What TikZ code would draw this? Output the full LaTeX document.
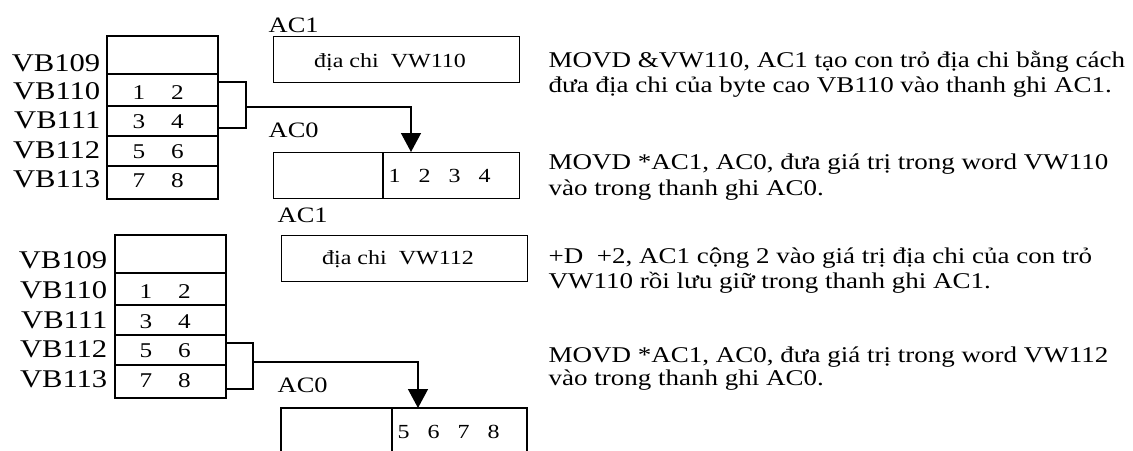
\documentclass[tikz,border=0pt]{standalone}
\usepackage{fontspec}
\setmainfont{Liberation Serif}
\usetikzlibrary{arrows.meta}
\newcommand\hstr[1]{\scalebox{1.2}[1]{#1}}
\begin{document}
\begin{tikzpicture}[x=1pt,y=-1pt,line width=1.4pt,
  vblbl/.style={inner sep=0pt,anchor=base east,font=\fontsize{25.5}{30}\selectfont},
  aclbl/.style={inner sep=0pt,anchor=base west,font=\fontsize{22}{26}\selectfont},
  memdig/.style={inner sep=0pt,anchor=base west,font=\fontsize{21}{25}\selectfont},
  boxtxt/.style={inner sep=0pt,anchor=base,font=\fontsize{20}{24}\selectfont},
  boxdig/.style={inner sep=0pt,anchor=base west,font=\fontsize{20}{24}\selectfont},
  desc/.style={inner sep=0pt,anchor=base west,font=\fontsize{22.5}{25}\selectfont},
  reg/.style={draw,line width=1.4pt,inner sep=0pt,anchor=north west,minimum width=246pt,minimum height=46pt},
  ptr/.style={-{Triangle[width=20pt,length=19pt]}}]
\useasboundingbox (0,0) rectangle (1133,450);

% ---------- first memory block ----------
\draw (107,36) rectangle (218,199);
\foreach \yy in {74,106,136,166} \draw (107,\yy) -- (218,\yy);
\node[vblbl] (l1a) at (101,71) {\hstr{VB109}};
\node[vblbl] (l1b) at (101,99) {\hstr{VB110}};
\node[vblbl] (l1c) at (101,128) {\hstr{VB111}};
\node[vblbl] (l1d) at (101,158) {\hstr{VB112}};
\node[vblbl] (l1e) at (101,187) {\hstr{VB113}};
\node[memdig] (d1b) at (132,99) {\hstr{1\hspace{21.5pt}2}};
\node[memdig] (d1c) at (132,128) {\hstr{3\hspace{21.5pt}4}};
\node[memdig] (d1d) at (132,158) {\hstr{5\hspace{21.5pt}6}};
\node[memdig] (d1e) at (132,187) {\hstr{7\hspace{21.5pt}8}};

% registers, first part
\node[aclbl] (ac1a) at (268,32) {\hstr{AC1}};
\node[reg] (r1) at (273,36) {};
\node[boxtxt] (t1) at (390,67) {\hstr{địa chi\ \ VW110}};
\node[aclbl] (ac0a) at (268,137) {\hstr{AC0}};
\node[reg] (r2) at (273,152) {};
\draw (383,152) -- (383,198);
\node[boxdig] (t2) at (388,182) {\hstr{1\hspace{15pt}2\hspace{15pt}3\hspace{15pt}4}};

% bracket + pointer 1
\coordinate (b1t) at (218,82);
\coordinate (b1b) at (218,128);
\coordinate (b1m) at (246,107);
\coordinate (p1) at (411,152);
\draw (b1t) -- ++(28,0) -- ++(0,46) -- (b1b);
\draw[ptr] (b1m) -| (p1);

% ---------- second memory block ----------
\draw (115,235) rectangle (226,398);
\foreach \yy in {273,305,335,365} \draw (115,\yy) -- (226,\yy);
\node[vblbl] (l2a) at (108,268) {\hstr{VB109}};
\node[vblbl] (l2b) at (108,298) {\hstr{VB110}};
\node[vblbl] (l2c) at (108,328) {\hstr{VB111}};
\node[vblbl] (l2d) at (108,357) {\hstr{VB112}};
\node[vblbl] (l2e) at (108,387) {\hstr{VB113}};
\node[memdig] (d2b) at (139,298) {\hstr{1\hspace{21.5pt}2}};
\node[memdig] (d2c) at (139,328) {\hstr{3\hspace{21.5pt}4}};
\node[memdig] (d2d) at (139,357) {\hstr{5\hspace{21.5pt}6}};
\node[memdig] (d2e) at (139,387) {\hstr{7\hspace{21.5pt}8}};

% registers, second part
\node[aclbl] (ac1b) at (277,222) {\hstr{AC1}};
\node[reg] (r3) at (281,235) {};
\node[boxtxt] (t3) at (398,264) {\hstr{địa chi\ \ VW112}};
\node[aclbl] (ac0b) at (277,392) {\hstr{AC0}};
\draw (281,455) -- (281,408) -- (527,408) -- (527,455);
\draw (392,408) -- (392,455);
\node[boxdig] (t4) at (397,438) {\hstr{5\hspace{15pt}6\hspace{15pt}7\hspace{15pt}8}};

% bracket + pointer 2
\coordinate (b2t) at (226,343);
\coordinate (b2b) at (226,389);
\coordinate (b2m) at (253,362);
\coordinate (p2) at (418,408);
\draw (b2t) -- ++(27,0) -- ++(0,46) -- (b2b);
\draw[ptr] (b2m) -| (p2);

% ---------- descriptions ----------
\node[desc] (e1a) at (548,67) {\hstr{MOVD \&VW110, AC1 tạo con trỏ địa chi bằng cách}};
\node[desc] (e1b) at (548,92) {\hstr{đưa địa chi của byte cao VB110 vào thanh ghi AC1.}};
\node[desc] (e2a) at (548,169) {\hstr{MOVD *AC1, AC0, đưa giá trị trong word VW110}};
\node[desc] (e2b) at (548,195) {\hstr{vào trong thanh ghi AC0.}};
\node[desc] (e3a) at (548,263) {\hstr{+D\ \ +2, AC1 cộng 2 vào giá trị địa chi của con trỏ}};
\node[desc] (e3b) at (548,288) {\hstr{VW110 rồi lưu giữ trong thanh ghi AC1.}};
\node[desc] (e4a) at (548,362) {\hstr{MOVD *AC1, AC0, đưa giá trị trong word VW112}};
\node[desc] (e4b) at (548,385) {\hstr{vào trong thanh ghi AC0.}};
\end{tikzpicture}
\end{document}
